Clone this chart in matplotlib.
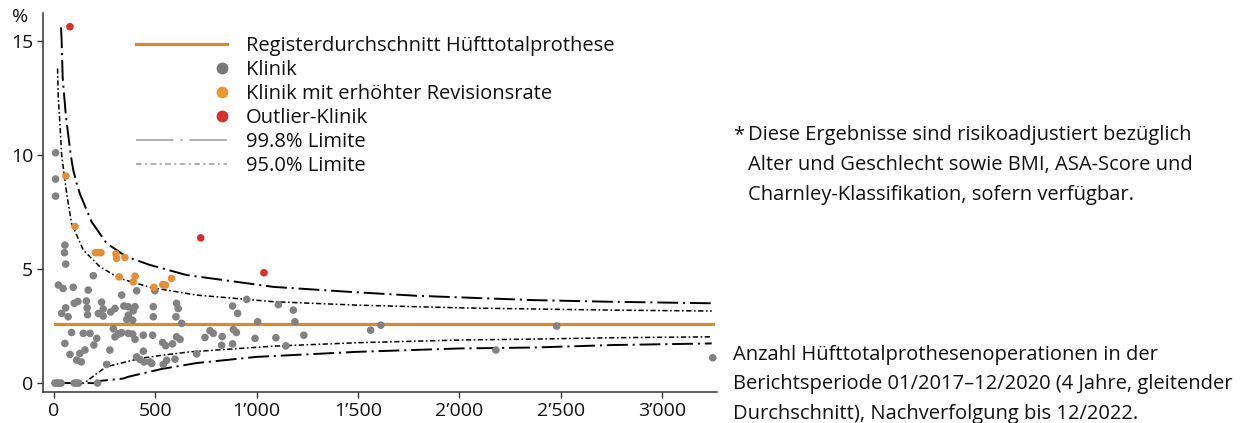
import matplotlib
matplotlib.use("Agg")
import matplotlib.pyplot as plt
import numpy as np
from matplotlib.lines import Line2D
from matplotlib.legend_handler import HandlerLine2D
from matplotlib.ticker import FuncFormatter, FixedLocator

plt.rcParams['font.family'] = ['Open Sans', 'DejaVu Sans']
plt.rcParams['lines.scale_dashes'] = False

# ---------------- data ----------------
register_mean = 2.6

gray_n = [8, 8, 8, 54, 52, 58, 22, 45, 38, 58, 70, 54,
          5, 15, 25, 35, 100, 110, 122, 215,
          95, 169, 194, 100, 118, 160, 164, 166, 219, 235, 243, 243,
          87, 145, 178, 211, 197, 79, 128, 153, 112, 135, 260,
          280, 301, 334, 408, 345, 367, 367, 359, 391, 400, 388,
          293, 334, 367, 388, 317, 301, 326, 400, 441, 276, 408, 424, 441, 444,
          498, 490, 490, 605, 613, 602, 630, 487, 605, 622, 536, 551, 585,
          482, 474, 539, 556, 597, 704,
          951, 881, 906, 1107, 1181, 1005, 1189, 745, 770, 786, 830, 885, 900,
          992, 1095, 1233, 827, 881, 1144,
          1562, 1613, 2180, 2480, 3250]
gray_y = [10.1, 8.95, 8.2, 6.05, 5.72, 5.22, 4.3, 4.15, 3.06, 3.3, 2.91, 1.74,
          0, 0, 0, 0, 0, 0, 0, 0,
          4.2, 4.08, 4.71, 3.5, 3.58, 3.6, 3.3, 3.0, 3.05, 3.55, 3.25, 2.94,
          2.22, 2.18, 2.18, 1.96, 1.67, 1.26, 1.3, 1.45, 1.01, 0.93, 0.82,
          3.12, 3.27, 3.86, 4.05, 3.38, 3.35, 2.98, 2.79, 3.17, 3.35, 2.76,
          2.38, 2.21, 2.18, 2.15, 2.15, 2.03, 2.18, 1.92, 2.1, 1.45, 1.15, 1.04, 1.4, 0.93,
          4.05, 3.35, 2.91, 3.5, 3.27, 2.91, 2.62, 2.1, 2.03, 1.92, 1.78, 1.64, 1.72,
          0.86, 0.93, 0.82, 1.0, 1.05, 1.28,
          3.67, 3.38, 3.06, 3.44, 3.2, 2.69, 2.69, 2.0, 2.3, 2.18, 2.04, 2.35, 2.22,
          1.96, 1.99, 2.1, 1.66, 1.72, 1.63,
          2.32, 2.54, 1.45, 2.5, 1.11]

orange_n = [59, 104, 205, 220, 232, 306, 309, 350, 322, 391, 400, 493, 537, 550, 580]
orange_y = [9.08, 6.87, 5.72, 5.72, 5.72, 5.66, 5.47, 5.51, 4.66, 4.44, 4.69, 4.20, 4.32, 4.30, 4.59]

red_n = [79, 724, 1036]
red_y = [15.63, 6.37, 4.84]

up998_n = [35, 38, 43, 59, 83, 95, 112, 128, 186, 260, 358, 474, 654, 835, 1082,
           1460, 1789, 2003, 2365, 2727, 3245]
up998_y = [15.6, 15.0, 13.4, 11.7, 10.0, 9.35, 8.76, 8.3, 7.07, 6.13, 5.54, 5.18, 4.74,
           4.52, 4.22, 4.0, 3.83, 3.76, 3.64, 3.57, 3.5]
up95_n = [18, 21, 30, 38, 63, 87, 145, 227, 326, 474, 704, 1082, 1493, 2003, 2365, 2760, 3245]
up95_y = [13.8, 12.6, 11.3, 10.0, 8.3, 7.0, 5.83, 5.1, 4.59, 4.2, 3.86, 3.57, 3.42, 3.3,
          3.25, 3.2, 3.16]
lo95_n = [5, 150, 211, 260, 424, 531, 671, 1082, 1493, 2003, 2365, 2760, 3245]
lo95_y = [0, 0, 0.42, 0.72, 1.08, 1.22, 1.37, 1.62, 1.77, 1.89, 1.93, 1.99, 2.03]
lo998_n = [5, 200, 219, 342, 367, 474, 531, 704, 1000, 1493, 2003, 2365, 2760, 3245]
lo998_y = [0, 0, 0.09, 0.2, 0.28, 0.5, 0.62, 0.88, 1.15, 1.37, 1.52, 1.56, 1.67, 1.74]

x_ticks = [0, 500, 1000, 1500, 2000, 2500, 3000]
y_ticks = [0, 5, 10, 15]

legend_labels = ["Registerdurchschnitt Hüfttotalprothese", "Klinik",
                 "Klinik mit erhöhter Revisionsrate", "Outlier-Klinik",
                 "99.8% Limite", "95.0% Limite"]
note_star = ("Diese Ergebnisse sind risikoadjustiert bezüglich\n"
             "Alter und Geschlecht sowie BMI, ASA-Score und\n"
             "Charnley-Klassifikation, sofern verfügbar.")
note_x = ("Anzahl Hüfttotalprothesenoperationen in der\n"
          "Berichtsperiode 01/2017–12/2020 (4 Jahre, gleitender\n"
          "Durchschnitt), Nachverfolgung bis 12/2022.")

# ---------------- style ----------------
C_LINE = '#D98A2B'
C_GRAY = '#828282'
C_ORANGE = '#E68E32'
C_RED = '#D6312B'
FS = 14.5
FS_TICK = 14

W, H = 1251, 423
fig = plt.figure(figsize=(W / 100, H / 100), dpi=100)
ax = fig.add_axes([43 / W, 31 / H, 674 / W, 379 / H])
ax.set_xlim(-54, 3271)
ax.set_ylim(-0.39, 16.23)

D998 = (15, 3.5, 1.5, 3.5)
D95 = (3.8, 1.8, 1.2, 1.8)
for xs, ys in [(up998_n, up998_y), (lo998_n, lo998_y)]:
    ax.plot(xs, ys, color='black', lw=1.4, dashes=D998, zorder=2)
for xs, ys in [(up95_n, up95_y), (lo95_n, lo95_y)]:
    ax.plot(xs, ys, color='black', lw=1.1, dashes=D95, zorder=2)

all_n = gray_n + orange_n + red_n
ax.plot([min(all_n), max(all_n)], [register_mean, register_mean], color=C_LINE, lw=2.3, zorder=3)

ms = 30
ax.scatter(gray_n, gray_y, s=ms, color=C_GRAY, edgecolors='none', zorder=4)
ax.scatter(orange_n, orange_y, s=ms, color=C_ORANGE, edgecolors='none', zorder=5)
ax.scatter(red_n, red_y, s=ms, color=C_RED, edgecolors='none', zorder=5)

for s in ['top', 'right']:
    ax.spines[s].set_visible(False)
for s in ['left', 'bottom']:
    ax.spines[s].set_color('#333333')
    ax.spines[s].set_linewidth(1.1)
ax.xaxis.set_major_locator(FixedLocator(x_ticks))
ax.yaxis.set_major_locator(FixedLocator(y_ticks))
ax.xaxis.set_major_formatter(FuncFormatter(lambda v, p: f"{int(v):,}".replace(",", "’")))
ax.yaxis.set_major_formatter(FuncFormatter(lambda v, p: f"{int(v)}"))
ax.tick_params(axis='both', direction='out', length=4, width=1.0, color='#333333',
               labelsize=FS_TICK, labelcolor='#111111', pad=3)

fig.text(20 / W, 1 - 17 / H, '%', fontsize=FS_TICK, ha='center', va='center', color='#111111')


class RightMarker(HandlerLine2D):
    def get_xdata(self, legend, xdescent, ydescent, width, height, fontsize):
        xr = -xdescent + width - 0.25 * fontsize
        return np.array([xr - 1.0, xr + 1.0]), np.array([xr])


handles = [
    Line2D([], [], color=C_LINE, lw=2.3),
    Line2D([], [], ls='none', marker='o', color='#777777', markersize=8.5, markeredgewidth=0),
    Line2D([], [], ls='none', marker='o', color='#EA9A35', markersize=8.5, markeredgewidth=0),
    Line2D([], [], ls='none', marker='o', color=C_RED, markersize=8.5, markeredgewidth=0),
    Line2D([], [], color='#999999', lw=1.1, dashes=(27, 5, 1.5, 5)),
    Line2D([], [], color='#999999', lw=1.1, dashes=(4, 2.5, 1.5, 2.5)),
]
hm = {h: RightMarker() for h in handles[1:4]}
fig.legend(handles, legend_labels, loc='upper left', bbox_to_anchor=(136 / W, 1 - 36 / H),
           bbox_transform=fig.transFigure, frameon=False, borderpad=0, borderaxespad=0,
           handlelength=4.5, handletextpad=0.95, labelspacing=0.2, fontsize=FS,
           handler_map=hm, labelcolor='#111111')

fig.text(733 / W, 1 - 125 / H, '*', fontsize=FS, ha='left', va='top', color='#111111')
fig.text(748 / W, 1 - 125 / H, note_star, fontsize=FS, ha='left', va='top',
         linespacing=1.66, color='#111111')
fig.text(733 / W, 1 - 345 / H, note_x, fontsize=FS, ha='left', va='top',
         linespacing=1.62, color='#111111')

fig.savefig('out.png', dpi=100)
